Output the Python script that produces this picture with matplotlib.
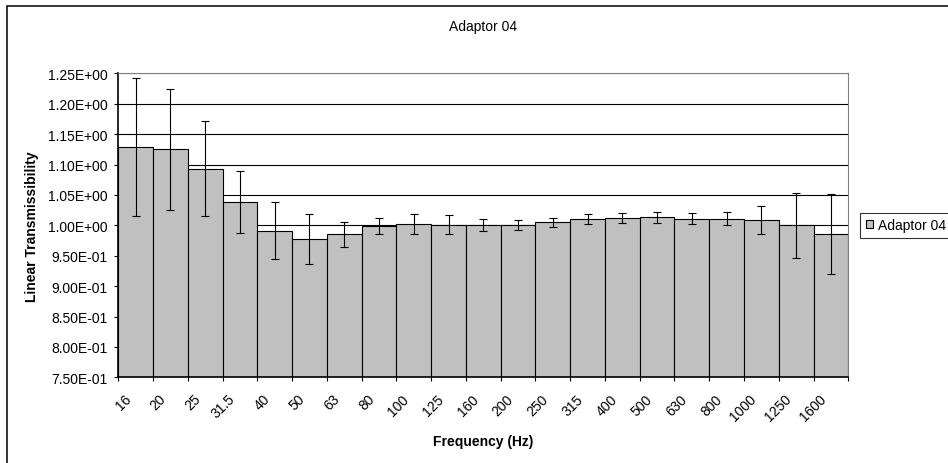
import matplotlib
matplotlib.use("Agg")
import matplotlib.pyplot as plt
import matplotlib.transforms as mtransforms
from matplotlib.patches import Rectangle
from matplotlib.ticker import FuncFormatter
import numpy as np

plt.rcParams['font.family'] = ['Liberation Sans', 'DejaVu Sans']

categories = ["16", "20", "25", "31.5", "40", "50", "63", "80", "100", "125", "160",
              "200", "250", "315", "400", "500", "630", "800", "1000", "1250", "1600"]
values = [1.129, 1.125, 1.093, 1.038, 0.991, 0.977, 0.985, 0.999, 1.002, 1.001, 1.000,
          1.001, 1.005, 1.010, 1.012, 1.013, 1.011, 1.011, 1.008, 1.000, 0.986]
errors = [0.114, 0.100, 0.078, 0.051, 0.047, 0.041, 0.021, 0.013, 0.016, 0.0155, 0.0098,
          0.008, 0.0078, 0.0083, 0.0083, 0.0093, 0.0094, 0.011, 0.023, 0.053, 0.066]
yticks = [0.75, 0.80, 0.85, 0.90, 0.95, 1.00, 1.05, 1.10, 1.15, 1.20, 1.25]
series_name = "Adaptor 04"

W, H = 948, 464
fig = plt.figure(figsize=(W / 100, H / 100), dpi=100)

# outer chart border (cropped on right/bottom)
fig.patches.append(Rectangle((6.7 / W, -0.2), 1.5, 1 - 6.7 / H + 0.2,
                             transform=fig.transFigure, fill=False,
                             edgecolor='black', linewidth=1.1, zorder=0))

left, right = 118.3 / W, 848.3 / W
top, bottom = 1 - 74.3 / H, 1 - 378.3 / H
ax = fig.add_axes([left, bottom, right - left, top - bottom])

x = np.arange(len(categories))
bars = ax.bar(x, values, width=1.0, color='#C0C0C0', edgecolor='black',
              linewidth=0.8, zorder=2, label=series_name)
ax.errorbar(x, values, yerr=errors, fmt='none', ecolor='black', elinewidth=0.8,
            capsize=2.6, capthick=0.8, zorder=3)

ax.set_xlim(-0.5, len(categories) - 0.5)
ax.set_ylim(0.75, 1.25)
ax.set_yticks(yticks)
ax.yaxis.set_major_formatter(FuncFormatter(lambda v, p: f"{v:.2E}"))
ax.yaxis.grid(True, color='black', linewidth=0.8, zorder=1)
ax.set_axisbelow(True)

ax.tick_params(axis='y', direction='out', length=3, width=0.8, pad=4.5,
               labelsize=10, colors='black')

ax.set_xticks(x)
ax.set_xticklabels(categories)
ax.set_xticks(np.arange(len(categories) + 1) - 0.5, minor=True)
ax.tick_params(axis='x', which='major', length=0, pad=13.7, labelsize=10)
ax.tick_params(axis='x', which='minor', direction='out', length=3, width=0.8)
offset = mtransforms.ScaledTranslation(-7 / 100, 0, fig.dpi_scale_trans)
for lab in ax.get_xticklabels():
    lab.set_rotation(45)
    lab.set_ha('right')
    lab.set_va('center')
    lab.set_rotation_mode('anchor')
    lab.set_transform(lab.get_transform() + offset)

for s in ['left', 'bottom']:
    ax.spines[s].set_color('black')
    ax.spines[s].set_linewidth(1.2)
for s in ['top', 'right']:
    ax.spines[s].set_color('#808080')
    ax.spines[s].set_linewidth(0.8)

fig.text((left + right) / 2, 1 - 27.5 / H, series_name, ha='center', va='center', fontsize=10)
fig.text((left + right) / 2, 1 - 441.7 / H, "Frequency (Hz)", ha='center', va='center',
         fontsize=10, fontweight='bold')
fig.text(31.7 / W, (top + bottom) / 2, "Linear Transmissibility", ha='center', va='center',
         rotation=90, fontsize=10, fontweight='bold')

leg = fig.legend(handles=[bars], labels=[series_name], loc='upper left',
                 bbox_to_anchor=(860.3 / W, 1 - 213.7 / H), frameon=True, fancybox=False,
                 edgecolor='black', fontsize=10, handlelength=0.5, handleheight=0.5,
                 handletextpad=0.4, borderpad=0.4, borderaxespad=0)
leg.get_frame().set_linewidth(0.8)

fig.savefig("out.png", dpi=100)
